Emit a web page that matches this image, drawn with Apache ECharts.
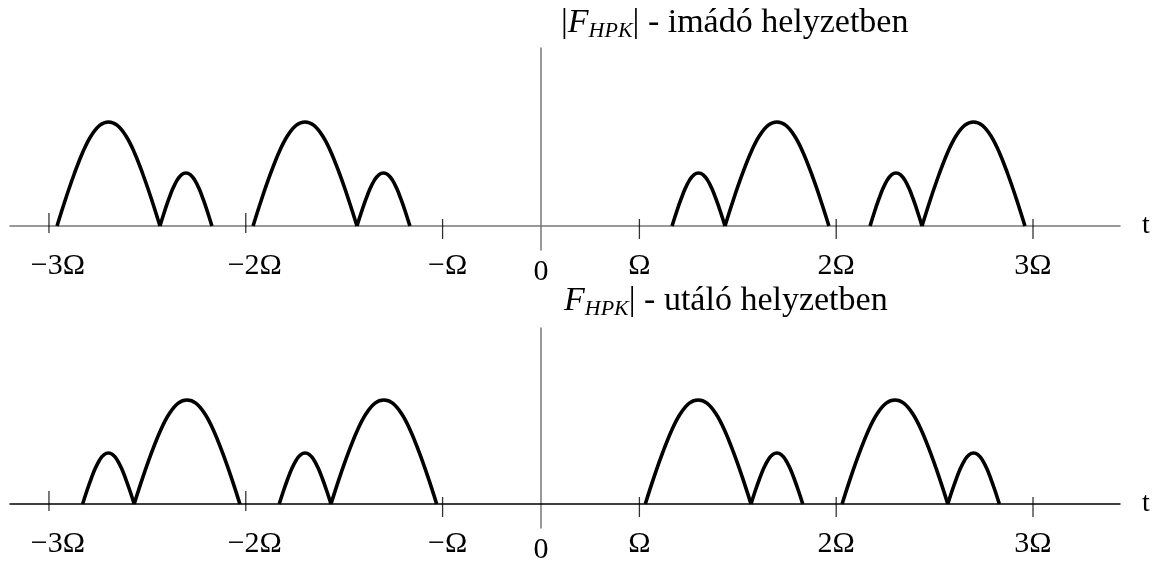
<!DOCTYPE html>
<html>
<head>
<meta charset="utf-8">
<title>F_HPK</title>
<script src="https://cdn.jsdelivr.net/npm/echarts@6/dist/echarts.min.js"></script>
<style>
  html, body { margin: 0; padding: 0; background: #fff; }
  #mychart { width: 1157px; height: 565px; }
</style>
</head>
<body>
<div id="mychart"></div>
<script>
// tengely: cimkek helye es szovege
var labelValues = [-2.5, -1.5, -0.5, 0, 0.5, 1.5, 2.5];
var labelTexts = ['−3Ω', '−2Ω', '−Ω', '0', 'Ω', '2Ω', '3Ω'];
var tickValues = [-2.5, -1.5, -0.5, 0.5, 1.5, 2.5];

// egy iv alakja a kepről leolvasva (relativ hely -> relativ magassag)
var archPos = [0, 0.083, 0.167, 0.25, 0.333, 0.417, 0.5, 0.583, 0.667, 0.75, 0.833, 0.917, 1];
var archVal = [0, 0.26, 0.5, 0.71, 0.87, 0.97, 1, 0.97, 0.87, 0.71, 0.5, 0.26, 0];

// felso abra: imado helyzet
var topStart = [-2.459, -1.936, -1.463, -0.935, 0.666, 0.935, 1.672, 1.936];
var topEnd = [-1.936, -1.672, -0.935, -0.666, 0.935, 1.463, 1.936, 2.459];
var topPeak = [1, 0.51, 1, 0.51, 0.51, 1, 0.51, 1];

// also abra: utalo helyzet
var botStart = [-2.329, -2.067, -1.330, -1.067, 0.530, 1.067, 1.530, 2.067];
var botEnd = [-2.067, -1.530, -1.067, -0.530, 1.067, 1.330, 2.067, 2.329];
var botPeak = [0.49, 1, 0.49, 1, 1, 0.49, 1, 0.49];

var font = '"Liberation Serif", "DejaVu Serif", serif';

function labelFor(v) {
  for (var i = 0; i < labelValues.length; i++) {
    if (Math.abs(labelValues[i] - v) < 1e-6) {
      if (labelTexts[i] === '0') return '{z|0}';
      // a negativ cimkek kicsit jobbra tolva, mint az eredetin
      if (v < -1) return '{n|' + labelTexts[i] + '}';
      if (v < 0) return '{m|' + labelTexts[i] + '}';
      return labelTexts[i];
    }
  }
  return '';
}

function makeX(gridIndex, color) {
  return {
    type: 'value',
    gridIndex: gridIndex,
    min: -2.698,
    max: 2.942,
    axisLine: { onZero: true, lineStyle: { color: color, width: 1.5 } },
    axisTick: { show: false },
    splitLine: { show: false },
    axisLabel: {
      customValues: labelValues,
      formatter: labelFor,
      margin: 2,
      color: '#000',
      fontFamily: font,
      fontSize: 30,
      lineHeight: 28,
      rich: {
        n: { fontFamily: font, fontSize: 30, lineHeight: 28, padding: [0, 0, 0, 18] },
        m: { fontFamily: font, fontSize: 30, lineHeight: 28, padding: [0, 0, 0, 10] },
        z: { fontFamily: font, fontSize: 30, lineHeight: 28, padding: [13, 0, 0, 0] }
      }
    },
    name: 't',
    nameLocation: 'end',
    nameGap: 22,
    nameTextStyle: { fontFamily: font, fontSize: 28, color: '#000' }
  };
}

function makeY(gridIndex, min, max) {
  return {
    type: 'value',
    gridIndex: gridIndex,
    min: min,
    max: max,
    axisLine: { onZero: true, lineStyle: { color: '#777', width: 1.5 } },
    axisTick: { show: false },
    axisLabel: { show: false },
    splitLine: { show: false }
  };
}

// ivek osszerakasa a tablakbol
function archSeries(starts, ends, peaks, idx) {
  var out = [];
  for (var k = 0; k < starts.length; k++) {
    var pts = [];
    for (var j = 0; j < archPos.length; j++) {
      pts.push([starts[k] + (ends[k] - starts[k]) * archPos[j], peaks[k] * archVal[j]]);
    }
    out.push({
      type: 'line',
      xAxisIndex: idx,
      yAxisIndex: idx,
      data: pts,
      smooth: 0.4,
      symbol: 'none',
      silent: true,
      lineStyle: { color: '#000', width: 3.6 }
    });
  }
  return out;
}

function tickSeries(idx) {
  return {
    type: 'scatter',
    xAxisIndex: idx,
    yAxisIndex: idx,
    silent: true,
    symbol: 'rect',
    symbolSize: [1.3, 20],
    itemStyle: { color: '#000' },
    z: 5,
    data: tickValues.map(function (v) {
      return { value: [v, 0], symbolOffset: [0, v < -1 ? -3 : 3] };
    })
  };
}

var titleRich = {
  a: { fontFamily: font, fontSize: 34, lineHeight: 36, fontWeight: 'normal', color: '#000' },
  f: { fontFamily: font, fontSize: 34, lineHeight: 36, fontWeight: 'normal', fontStyle: 'italic', color: '#000' },
  s: { fontFamily: font, fontSize: 22, lineHeight: 22, fontWeight: 'normal', fontStyle: 'italic', padding: [17, 0, 0, 0], color: '#000' }
};

var chart = echarts.init(document.getElementById('mychart'));
chart.setOption({
  animation: false,
  title: [
    { text: '{a||}{f|F}{s|HPK}{a|| - imádó helyzetben}', left: 561, top: 5, padding: 0, textStyle: { fontWeight: 'normal', rich: titleRich } },
    { text: '{f|F}{s|HPK}{a|| - utáló helyzetben}', left: 564, top: 283, padding: 0, textStyle: { fontWeight: 'normal', rich: titleRich } }
  ],
  grid: [
    { left: 10, right: 37, top: 48, height: 202, outerBoundsMode: 'none' },
    { left: 10, right: 37, top: 328, height: 200, outerBoundsMode: 'none' }
  ],
  xAxis: [makeX(0, '#777'), makeX(1, '#000')],
  yAxis: [makeY(0, -0.2308, 1.7115), makeY(1, -0.2308, 1.692)],
  series: []
    .concat(archSeries(topStart, topEnd, topPeak, 0))
    .concat(archSeries(botStart, botEnd, botPeak, 1))
    .concat([tickSeries(0), tickSeries(1)])
});
</script>
</body>
</html>
